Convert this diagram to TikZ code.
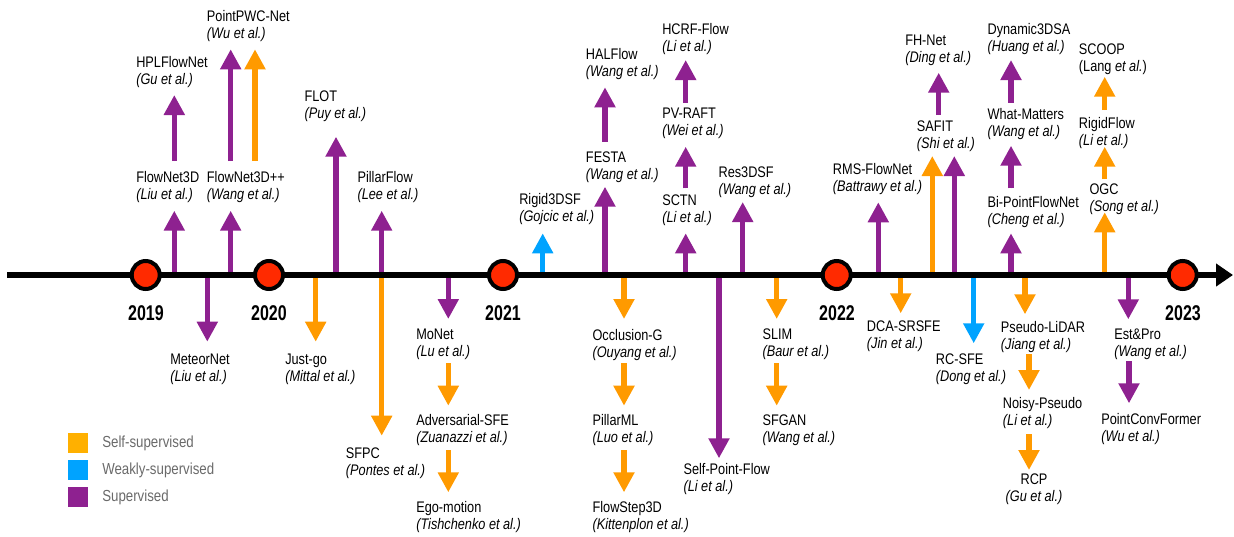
\documentclass[tikz,border=0pt]{standalone}
\usepackage{fontspec}
\setmainfont{Liberation Sans}[FakeStretch=0.83]
\newfontfamily\yearfont{Liberation Sans}[FakeStretch=0.75]
\usetikzlibrary{arrows.meta}
\definecolor{cpur}{HTML}{8E2190}
\definecolor{corg}{HTML}{FF9A00}
\definecolor{clorg}{HTML}{FFB000}
\definecolor{cblue}{HTML}{00A3FF}
\definecolor{cred}{HTML}{FF2A00}
\definecolor{cgray}{HTML}{6A6A6A}
\tikzset{
  ar/.style={line width=4.1pt,-{Triangle[length=15pt,width=15pt]}},
  pur/.style={draw=cpur,fill=cpur},
  org/.style={draw=corg,fill=corg},
  blu/.style={draw=cblue,fill=cblue},
  lab/.style={anchor=north west,inner sep=0pt,align=left,font=\fontsize{11.5}{12.75}\selectfont},
  yr/.style={anchor=base,inner sep=0pt,font=\yearfont\bfseries\fontsize{16}{17}\selectfont},
  yc/.style={circle,draw=black,fill=cred,line width=3pt,minimum size=21pt,inner sep=0pt},
  legbox/.style={anchor=north west,minimum size=15pt,inner sep=0pt},
  legtxt/.style={anchor=west,inner sep=0pt,text=cgray,font=\fontsize{12}{13}\selectfont},
  axisline/.style={line width=4.5pt,-{Triangle[length=12.75pt,width=16.5pt]}}
}
\newcommand\myarr[4]{\draw[ar,#1] (#2,#3) -- (#2,#4);}
\begin{document}
\begin{tikzpicture}[x=0.75pt,y=-0.75pt]
\useasboundingbox (0,0) rectangle (1234,536);
% up arrows
\myarr{pur}{174.3}{275}{210.7}
\myarr{pur}{174.3}{161}{95}
\myarr{pur}{230.7}{275}{210.7}
\myarr{pur}{230.7}{161}{49.3}
\myarr{org}{255}{161}{49.3}
\myarr{pur}{336}{275}{136.7}
\myarr{pur}{381.7}{275}{210.7}
\myarr{blu}{542.7}{275}{233.3}
\myarr{pur}{605}{275}{186.7}
\myarr{pur}{605}{141.7}{87.3}
\myarr{pur}{685.7}{275}{233.3}
\myarr{pur}{685.7}{188.3}{146.7}
\myarr{pur}{685.7}{102.7}{60}
\myarr{pur}{742.7}{275}{202}
\myarr{pur}{878.3}{275}{202.3}
\myarr{org}{932.3}{275}{156}
\myarr{pur}{954.3}{275}{156}
\myarr{pur}{938.7}{115}{72.7}
\myarr{pur}{1011}{275}{233.3}
\myarr{pur}{1011}{188.3}{145.7}
\myarr{pur}{1011}{102.7}{60}
\myarr{org}{1104.7}{275}{212.3}
\myarr{org}{1104.7}{179}{146.7}
\myarr{org}{1104.7}{110}{76.7}
% down arrows
\myarr{pur}{207.3}{275}{341.7}
\myarr{org}{315.7}{275}{341.7}
\myarr{org}{381.7}{275}{435.7}
\myarr{pur}{448.3}{275}{319}
\myarr{org}{448.3}{363.3}{405.7}
\myarr{org}{448.3}{450}{492.3}
\myarr{org}{624}{275}{319}
\myarr{org}{624}{363.3}{405.7}
\myarr{org}{624}{450}{492.3}
\myarr{pur}{719}{275}{458.3}
\myarr{org}{776.7}{275}{319}
\myarr{org}{776.7}{363.3}{405.7}
\myarr{org}{900.7}{275}{313.3}
\myarr{blu}{973.7}{275}{343.3}
\myarr{org}{1025}{275}{314.3}
\myarr{org}{1029}{354.3}{390}
\myarr{org}{1029}{434.3}{470}
\myarr{pur}{1128.3}{275}{319.3}
\myarr{pur}{1129}{361}{403.3}
% axis
\coordinate (axs) at (7,275);
\coordinate (axe) at (1233,275);
\draw[axisline] (axs) -- (axe);
\node[yc] (c19) at (145.7,275) {};
\node[yc] (c20) at (269,275) {};
\node[yc] (c21) at (503,275) {};
\node[yc] (c22) at (836.7,275) {};
\node[yc] (c23) at (1182.7,275) {};
\node[yr] (y19) at (146,320) {2019};
\node[yr] (y20) at (269,320) {2020};
\node[yr] (y21) at (503,320) {2021};
\node[yr] (y22) at (837,320) {2022};
\node[yr] (y23) at (1183,320) {2023};
% labels
\node[lab] (l1) at (136,171) {FlowNet3D\\\textit{(Liu et al.)}};
\node[lab] (l2) at (136,56) {HPLFlowNet\\\textit{(Gu et al.)}};
\node[lab] (l3) at (206.7,171) {FlowNet3D++\\\textit{(Wang et al.)}};
\node[lab] (l4) at (206.7,10) {PointPWC-Net\\\textit{(Wu et al.)}};
\node[lab] (l5) at (304.3,90.7) {FLOT\\\textit{(Puy et al.)}};
\node[lab] (l6) at (357.3,171) {PillarFlow\\\textit{(Lee et al.)}};
\node[lab] (l7) at (170,354) {MeteorNet\\\textit{(Liu et al.)}};
\node[lab] (l8) at (285,354) {Just-go\\\textit{(Mittal et al.)}};
\node[lab] (l9) at (345.7,447.3) {SFPC\\\textit{(Pontes et al.)}};
\node[lab] (l10) at (416,329) {MoNet\\\textit{(Lu et al.)}};
\node[lab] (l11) at (416,414.3) {Adversarial-SFE\\\textit{(Zuanazzi et al.)}};
\node[lab] (l12) at (416,500.7) {Ego-motion\\\textit{(Tishchenko et al.)}};
\node[lab] (l13) at (519,192.7) {Rigid3DSF\\\textit{(Gojcic et al.)}};
\node[lab] (l14) at (585.7,151.7) {FESTA\\\textit{(Wang et al.)}};
\node[lab] (l15) at (585.7,48.3) {HALFlow\\\textit{(Wang et al.)}};
\node[lab] (l16) at (592.3,329) {Occlusion-G\\\textit{(Ouyang et al.)}};
\node[lab] (l17) at (592.3,414.3) {PillarML\\\textit{(Luo et al.)}};
\node[lab] (l18) at (592.3,500.7) {FlowStep3D\\\textit{(Kittenplon et al.)}};
\node[lab] (l19) at (662,194.3) {SCTN\\\textit{(Li et al.)}};
\node[lab] (l20) at (662,107.7) {PV-RAFT\\\textit{(Wei et al.)}};
\node[lab] (l21) at (662,22.7) {HCRF-Flow\\\textit{(Li et al.)}};
\node[lab] (l22) at (683.3,463.3) {Self-Point-Flow\\\textit{(Li et al.)}};
\node[lab] (l23) at (718.3,166.7) {Res3DSF\\\textit{(Wang et al.)}};
\node[lab] (l24) at (762.3,329) {SLIM\\\textit{(Baur et al.)}};
\node[lab] (l25) at (762.3,414.3) {SFGAN\\\textit{(Wang et al.)}};
\node[lab] (l26) at (832.7,162.7) {RMS-FlowNet\\\textit{(Battrawy et al.)}};
\node[lab] (l27) at (916.7,121) {SAFIT\\\textit{(Shi et al.)}};
\node[lab] (l28) at (905,35) {FH-Net\\\textit{(Ding et al.)}};
\node[lab] (l29) at (987.3,195.7) {Bi-PointFlowNet\\\textit{(Cheng et al.)}};
\node[lab] (l30) at (987.3,107.7) {What-Matters\\\textit{(Wang et al.)}};
\node[lab] (l31) at (987.3,22.7) {Dynamic3DSA\\\textit{(Huang et al.)}};
\node[lab] (l32) at (1089.3,183.3) {OGC\\\textit{(Song et al.)}};
\node[lab] (l33) at (1078.7,117.3) {RigidFlow\\\textit{(Li et al.)}};
\node[lab] (l34) at (1078.7,43.3) {SCOOP\\(Lang \textit{et al.})};
\node[lab] (l35) at (866.7,321) {DCA-SRSFE\\\textit{(Jin et al.)}};
\node[lab] (l36) at (935.7,354) {RC-SFE\\\textit{(Dong et al.)}};
\node[lab] (l37) at (1000.7,321) {Pseudo-LiDAR\\\textit{(Jiang et al.)}};
\node[lab] (l38) at (1002.7,397.3) {Noisy-Pseudo\\\textit{(Li et al.)}};
\node[lab,anchor=north,align=center] (l39) at (1034,473.3) {RCP\\\textit{(Gu et al.)}};
\node[lab] (l40) at (1114,329) {Est\&Pro\\\textit{(Wang et al.)}};
\node[lab] (l41) at (1101,413.3) {PointConvFormer\\\textit{(Wu et al.)}};
% legend
\node[legbox,fill=clorg] (k1) at (68,433) {};
\node[legbox,fill=cblue] (k2) at (68,460) {};
\node[legbox,fill=cpur] (k3) at (68,487) {};
\node[legtxt] (t1) at (102,443) {Self-supervised};
\node[legtxt] (t2) at (102,470) {Weakly-supervised};
\node[legtxt] (t3) at (102,497) {Supervised};
\end{tikzpicture}
\end{document}
